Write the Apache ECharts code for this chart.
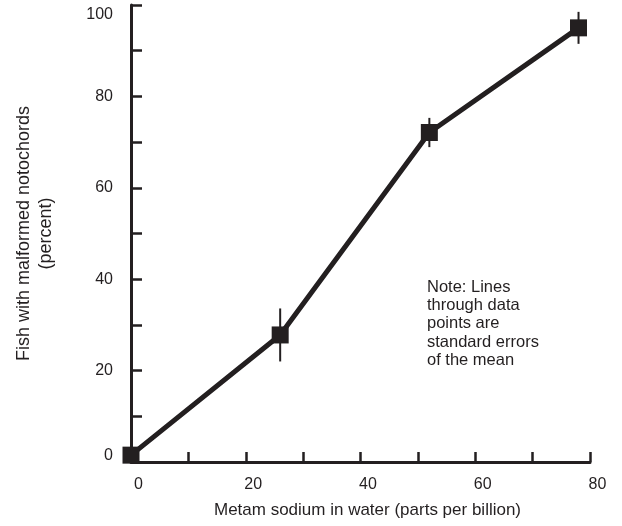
<!DOCTYPE html>
<html>
<head>
<meta charset="utf-8">
<script src="https://cdn.jsdelivr.net/npm/echarts@6/dist/echarts.min.js"></script>
<style>
html,body{margin:0;padding:0;background:#fff;}
#chart{width:622px;height:526px;}
</style>
</head>
<body>
<div id="chart"></div>
<script>
// Data
const concentration = [0, 26, 52, 78];          // Metam sodium in water (ppb)
const malformedPct = [1.5, 27.8, 72.1, 95.0];   // Fish with malformed notochords (%)
const stdError = [0, 5.8, 3.2, 3.5];            // standard error of the mean
const xTicks = [0, 20, 40, 60, 80];
const yTicks = [0, 20, 40, 60, 80, 100];

const ink = '#231f20';
const font = '"Liberation Sans", Arial, Helvetica, sans-serif';

const pts = concentration.map((x, i) => [x, malformedPct[i]]);
const errs = concentration.map((x, i) => [x, malformedPct[i] - stdError[i], malformedPct[i] + stdError[i]]);

const chart = echarts.init(document.getElementById('chart'), null, {renderer: 'canvas'});
chart.setOption({
  animation: false,
  backgroundColor: '#fff',
  grid: {left: 131, right: 32, top: 5, bottom: 64},
  xAxis: {
    type: 'value', min: 0, max: 80, interval: 10,
    name: 'Metam sodium in water (parts per billion)',
    nameLocation: 'middle', nameGap: 40,
    nameTextStyle: {color: ink, fontSize: 17, fontFamily: font, padding: [0, 0, 0, 14]},
    axisLine: {show: true, lineStyle: {color: ink, width: 3}},
    axisTick: {show: true, inside: true, length: 10, lineStyle: {color: ink, width: 2.5}},
    axisLabel: {
      color: ink, fontSize: 16, fontFamily: font, margin: 15, padding: [0, 0, 0, 15],
      formatter: v => xTicks.includes(v) ? String(v) : ''
    },
    splitLine: {show: false}
  },
  yAxis: {
    type: 'value', min: 0, max: 100, interval: 10,
    name: 'Fish with malformed notochords\n(percent)',
    nameLocation: 'middle', nameGap: 74,
    nameTextStyle: {color: ink, fontSize: 18, fontFamily: font, lineHeight: 22},
    axisLine: {show: true, lineStyle: {color: ink, width: 3}},
    axisTick: {show: true, inside: true, length: 11, lineStyle: {color: ink, width: 2.5}},
    axisLabel: {
      color: ink, fontSize: 16, fontFamily: font, margin: 18,
      formatter: v => {
        if (!yTicks.includes(v)) return '';
        if (v === 100) return '{top|100}';
        if (v === 0) return '{bot|0}';
        return String(v);
      },
      rich: {
        top: {fontSize: 16, fontFamily: font, color: ink, padding: [20, 0, 0, 0]},
        bot: {fontSize: 16, fontFamily: font, color: ink, padding: [0, 0, 12, 0]}
      }
    },
    splitLine: {show: false}
  },
  series: [
    {
      type: 'custom',
      data: errs,
      z: 3,
      renderItem: (params, api) => {
        const a = api.coord([api.value(0), api.value(1)]);
        const b = api.coord([api.value(0), api.value(2)]);
        return {type: 'line', shape: {x1: a[0], y1: a[1], x2: b[0], y2: b[1]},
                style: {stroke: ink, lineWidth: 2}};
      }
    },
    {
      type: 'line',
      data: pts,
      z: 4,
      symbol: 'rect', symbolSize: 17,
      itemStyle: {color: ink},
      lineStyle: {color: ink, width: 5}
    }
  ],
  graphic: [{
    type: 'text', left: 427, top: 278,
    style: {
      text: 'Note: Lines\nthrough data\npoints are\nstandard errors\nof the mean',
      fill: ink, fontSize: 16.5, fontFamily: font, lineHeight: 18.3
    }
  }]
});
</script>
</body>
</html>
